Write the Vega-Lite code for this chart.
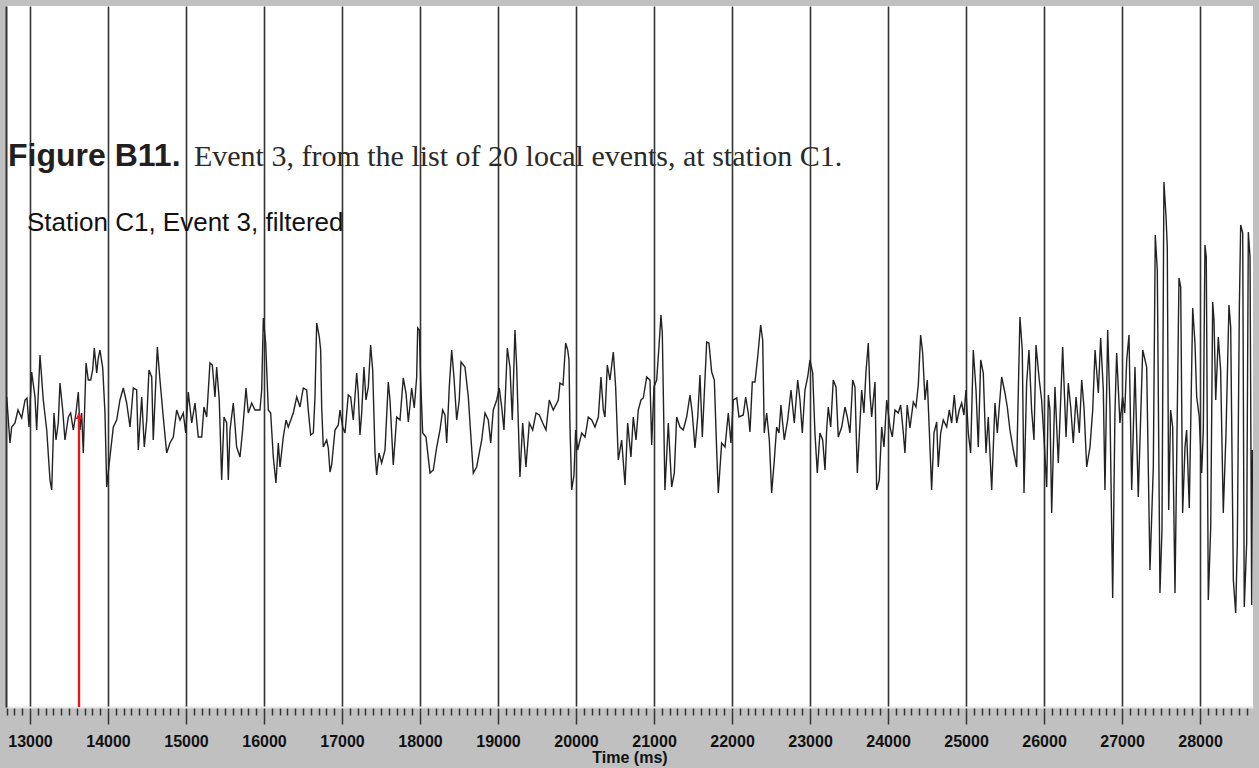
{
  "$schema": "https://vega.github.io/schema/vega-lite/v6.json",
  "width": 1247,
  "height": 701,
  "autosize": {"type": "none"},
  "padding": {"left": 6, "top": 6, "right": 6, "bottom": 61},
  "background": "#c0c0c0",
  "config": {"view": {"fill": "#ffffff", "stroke": null}},
  "datasets": {
    "trace": [
      {"t":12701,"a":9},{"t":12743,"a":-37},{"t":12765,"a":-21},{"t":12807,"a":-17},{"t":12846,"a":-4},{"t":12893,"a":-12},{"t":12936,"a":6},{"t":12961,"a":8},{"t":12987,"a":-21},{"t":13021,"a":34},
      {"t":13064,"a":9},{"t":13085,"a":-24},{"t":13128,"a":51},{"t":13170,"a":6},{"t":13214,"a":-24},{"t":13256,"a":-74},{"t":13278,"a":-84},{"t":13307,"a":-7},{"t":13333,"a":-34},{"t":13362,"a":-17},
      {"t":13384,"a":23},{"t":13419,"a":-4},{"t":13448,"a":-34},{"t":13491,"a":-11},{"t":13521,"a":-7},{"t":13555,"a":-24},{"t":13589,"a":-7},{"t":13619,"a":14},{"t":13641,"a":-24},{"t":13662,"a":-7},
      {"t":13683,"a":-47},{"t":13718,"a":43},{"t":13747,"a":26},{"t":13778,"a":26},{"t":13803,"a":36},{"t":13824,"a":58},{"t":13855,"a":33},{"t":13875,"a":48},{"t":13897,"a":56},{"t":13932,"a":38},
      {"t":13961,"a":-7},{"t":13983,"a":-81},{"t":14016,"a":-57},{"t":14068,"a":-21},{"t":14111,"a":-14},{"t":14153,"a":6},{"t":14196,"a":18},{"t":14239,"a":3},{"t":14282,"a":-21},{"t":14324,"a":18},
      {"t":14367,"a":16},{"t":14388,"a":-44},{"t":14432,"a":9},{"t":14465,"a":-41},{"t":14496,"a":-14},{"t":14525,"a":36},{"t":14560,"a":29},{"t":14580,"a":-34},{"t":14632,"a":59},{"t":14666,"a":26},
      {"t":14708,"a":-11},{"t":14752,"a":-47},{"t":14794,"a":-37},{"t":14837,"a":-31},{"t":14880,"a":-4},{"t":14923,"a":-14},{"t":14965,"a":-7},{"t":14996,"a":-27},{"t":15029,"a":14},{"t":15073,"a":-17},
      {"t":15115,"a":3},{"t":15157,"a":-31},{"t":15201,"a":-31},{"t":15230,"a":-1},{"t":15265,"a":-11},{"t":15307,"a":43},{"t":15337,"a":41},{"t":15371,"a":9},{"t":15393,"a":39},{"t":15426,"a":6},
      {"t":15457,"a":-74},{"t":15487,"a":-11},{"t":15521,"a":-17},{"t":15542,"a":-74},{"t":15564,"a":-24},{"t":15606,"a":3},{"t":15649,"a":-41},{"t":15692,"a":-51},{"t":15726,"a":-24},{"t":15769,"a":18},
      {"t":15798,"a":-7},{"t":15842,"a":3},{"t":15884,"a":-4},{"t":15948,"a":-4},{"t":15970,"a":16},{"t":15991,"a":88},{"t":16021,"a":63},{"t":16055,"a":-4},{"t":16085,"a":-7},{"t":16119,"a":-51},
      {"t":16153,"a":-77},{"t":16183,"a":-37},{"t":16205,"a":-61},{"t":16247,"a":-31},{"t":16282,"a":-14},{"t":16311,"a":-21},{"t":16375,"a":-7},{"t":16419,"a":9},{"t":16461,"a":-1},{"t":16503,"a":18},
      {"t":16547,"a":16},{"t":16567,"a":-4},{"t":16598,"a":-29},{"t":16632,"a":-27},{"t":16653,"a":8},{"t":16675,"a":83},{"t":16709,"a":69},{"t":16726,"a":56},{"t":16739,"a":-1},{"t":16760,"a":-41},
      {"t":16803,"a":-34},{"t":16824,"a":-42},{"t":16846,"a":-66},{"t":16867,"a":-59},{"t":16910,"a":-24},{"t":16952,"a":-19},{"t":16974,"a":-4},{"t":17008,"a":-21},{"t":17038,"a":-27},{"t":17080,"a":11},
      {"t":17111,"a":9},{"t":17144,"a":-14},{"t":17188,"a":33},{"t":17208,"a":13},{"t":17230,"a":-29},{"t":17252,"a":-7},{"t":17281,"a":39},{"t":17307,"a":6},{"t":17337,"a":19},{"t":17367,"a":61},
      {"t":17393,"a":36},{"t":17423,"a":-47},{"t":17444,"a":-69},{"t":17474,"a":-47},{"t":17508,"a":-57},{"t":17551,"a":-44},{"t":17593,"a":24},{"t":17615,"a":6},{"t":17657,"a":-59},{"t":17701,"a":-11},
      {"t":17743,"a":-14},{"t":17785,"a":28},{"t":17820,"a":13},{"t":17850,"a":-16},{"t":17893,"a":18},{"t":17926,"a":-2},{"t":17957,"a":29},{"t":17970,"a":78},{"t":17991,"a":76},{"t":18008,"a":26},
      {"t":18034,"a":-27},{"t":18076,"a":-31},{"t":18128,"a":-67},{"t":18170,"a":-64},{"t":18214,"a":-41},{"t":18256,"a":-24},{"t":18290,"a":-4},{"t":18320,"a":-9},{"t":18342,"a":-37},{"t":18375,"a":19},
      {"t":18406,"a":56},{"t":18435,"a":29},{"t":18470,"a":-14},{"t":18503,"a":6},{"t":18525,"a":44},{"t":18576,"a":39},{"t":18619,"a":9},{"t":18649,"a":-27},{"t":18683,"a":-67},{"t":18726,"a":-61},
      {"t":18791,"a":-34},{"t":18833,"a":-7},{"t":18875,"a":-14},{"t":18906,"a":-37},{"t":18939,"a":-4},{"t":18983,"a":6},{"t":19016,"a":18},{"t":19047,"a":-1},{"t":19076,"a":-24},{"t":19119,"a":58},
      {"t":19153,"a":39},{"t":19183,"a":-14},{"t":19217,"a":76},{"t":19239,"a":39},{"t":19260,"a":-17},{"t":19281,"a":-71},{"t":19316,"a":-17},{"t":19358,"a":-61},{"t":19401,"a":-17},{"t":19444,"a":-24},
      {"t":19487,"a":-7},{"t":19529,"a":-9},{"t":19573,"a":-17},{"t":19615,"a":-24},{"t":19657,"a":6},{"t":19708,"a":-4},{"t":19773,"a":6},{"t":19794,"a":23},{"t":19833,"a":21},{"t":19867,"a":63},
      {"t":19893,"a":56},{"t":19910,"a":46},{"t":19922,"a":-19},{"t":19944,"a":-84},{"t":19974,"a":-69},{"t":19995,"a":-24},{"t":20021,"a":-44},{"t":20051,"a":-34},{"t":20073,"a":-27},{"t":20115,"a":-31},
      {"t":20137,"a":-21},{"t":20157,"a":-11},{"t":20201,"a":-14},{"t":20243,"a":-21},{"t":20286,"a":-11},{"t":20320,"a":29},{"t":20350,"a":-4},{"t":20371,"a":-11},{"t":20401,"a":41},{"t":20435,"a":26},
      {"t":20478,"a":54},{"t":20508,"a":19},{"t":20542,"a":-54},{"t":20585,"a":-34},{"t":20628,"a":-79},{"t":20662,"a":-17},{"t":20704,"a":-51},{"t":20734,"a":-11},{"t":20769,"a":-34},{"t":20798,"a":-4},
      {"t":20833,"a":6},{"t":20862,"a":8},{"t":20906,"a":29},{"t":20948,"a":26},{"t":20970,"a":-39},{"t":20999,"a":19},{"t":21034,"a":26},{"t":21063,"a":59},{"t":21089,"a":91},{"t":21106,"a":73},
      {"t":21140,"a":-84},{"t":21183,"a":-17},{"t":21226,"a":-81},{"t":21260,"a":-67},{"t":21290,"a":-11},{"t":21333,"a":-21},{"t":21375,"a":-24},{"t":21418,"a":-11},{"t":21461,"a":11},{"t":21490,"a":-7},
      {"t":21525,"a":-42},{"t":21560,"a":-11},{"t":21589,"a":31},{"t":21619,"a":-31},{"t":21675,"a":64},{"t":21704,"a":63},{"t":21739,"a":34},{"t":21773,"a":26},{"t":21803,"a":-44},{"t":21824,"a":-87},
      {"t":21867,"a":-37},{"t":21910,"a":-41},{"t":21952,"a":-7},{"t":21986,"a":-37},{"t":22016,"a":6},{"t":22060,"a":8},{"t":22089,"a":-11},{"t":22144,"a":-9},{"t":22175,"a":9},{"t":22208,"a":-7},
      {"t":22230,"a":-26},{"t":22260,"a":24},{"t":22294,"a":24},{"t":22329,"a":49},{"t":22367,"a":81},{"t":22393,"a":66},{"t":22413,"a":-27},{"t":22444,"a":-7},{"t":22478,"a":-34},{"t":22508,"a":-87},
      {"t":22542,"a":-54},{"t":22572,"a":-21},{"t":22602,"a":-27},{"t":22627,"a":1},{"t":22670,"a":-34},{"t":22713,"a":-14},{"t":22756,"a":16},{"t":22798,"a":-17},{"t":22842,"a":26},{"t":22871,"a":6},
      {"t":22901,"a":-27},{"t":22935,"a":16},{"t":22970,"a":29},{"t":22999,"a":46},{"t":23034,"a":33},{"t":23063,"a":-27},{"t":23093,"a":-67},{"t":23127,"a":-27},{"t":23162,"a":-34},{"t":23192,"a":-64},
      {"t":23213,"a":-24},{"t":23234,"a":-1},{"t":23265,"a":-21},{"t":23298,"a":26},{"t":23333,"a":19},{"t":23362,"a":-31},{"t":23406,"a":-21},{"t":23448,"a":-1},{"t":23478,"a":-11},{"t":23512,"a":-27},
      {"t":23547,"a":26},{"t":23576,"a":19},{"t":23606,"a":-67},{"t":23640,"a":-17},{"t":23662,"a":16},{"t":23691,"a":-7},{"t":23717,"a":34},{"t":23747,"a":63},{"t":23768,"a":13},{"t":23790,"a":-11},
      {"t":23833,"a":24},{"t":23854,"a":-84},{"t":23888,"a":-74},{"t":23919,"a":-21},{"t":23948,"a":-41},{"t":23983,"a":6},{"t":24025,"a":-21},{"t":24055,"a":-31},{"t":24089,"a":-4},{"t":24131,"a":-7},
      {"t":24162,"a":1},{"t":24195,"a":-26},{"t":24217,"a":-47},{"t":24246,"a":1},{"t":24281,"a":-22},{"t":24324,"a":4},{"t":24358,"a":-1},{"t":24388,"a":21},{"t":24418,"a":71},{"t":24444,"a":53},
      {"t":24474,"a":6},{"t":24503,"a":26},{"t":24529,"a":-24},{"t":24559,"a":-84},{"t":24589,"a":-27},{"t":24624,"a":-16},{"t":24644,"a":-61},{"t":24675,"a":-27},{"t":24708,"a":-14},{"t":24752,"a":-21},
      {"t":24785,"a":-4},{"t":24816,"a":-17},{"t":24849,"a":11},{"t":24880,"a":-17},{"t":24913,"a":-4},{"t":24944,"a":3},{"t":24973,"a":-9},{"t":24999,"a":16},{"t":25029,"a":-27},{"t":25059,"a":-47},
      {"t":25093,"a":56},{"t":25128,"a":16},{"t":25157,"a":-41},{"t":25188,"a":46},{"t":25221,"a":33},{"t":25256,"a":-47},{"t":25285,"a":-11},{"t":25329,"a":-84},{"t":25371,"a":3},{"t":25401,"a":-27},
      {"t":25426,"a":-1},{"t":25457,"a":29},{"t":25499,"a":13},{"t":25529,"a":-1},{"t":25563,"a":-24},{"t":25606,"a":-44},{"t":25649,"a":-61},{"t":25691,"a":89},{"t":25721,"a":56},{"t":25743,"a":-87},
      {"t":25777,"a":23},{"t":25807,"a":56},{"t":25841,"a":-4},{"t":25871,"a":-34},{"t":25897,"a":61},{"t":25939,"a":26},{"t":25969,"a":6},{"t":26003,"a":-37},{"t":26034,"a":-81},{"t":26055,"a":11},
      {"t":26076,"a":-4},{"t":26098,"a":-107},{"t":26140,"a":19},{"t":26183,"a":-57},{"t":26239,"a":59},{"t":26282,"a":-31},{"t":26311,"a":23},{"t":26342,"a":-1},{"t":26375,"a":-37},{"t":26410,"a":9},
      {"t":26452,"a":-27},{"t":26483,"a":26},{"t":26512,"a":-1},{"t":26547,"a":-61},{"t":26589,"a":-41},{"t":26624,"a":-4},{"t":26654,"a":56},{"t":26696,"a":13},{"t":26726,"a":68},{"t":26760,"a":16},
      {"t":26781,"a":-84},{"t":26816,"a":76},{"t":26845,"a":-1},{"t":26880,"a":-192},{"t":26909,"a":-7},{"t":26931,"a":53},{"t":26973,"a":-17},{"t":27008,"a":9},{"t":27034,"a":-7},{"t":27060,"a":46},
      {"t":27089,"a":71},{"t":27124,"a":-84},{"t":27166,"a":39},{"t":27208,"a":-91},{"t":27265,"a":56},{"t":27316,"a":39},{"t":27358,"a":-164},{"t":27401,"a":-61},{"t":27426,"a":171},{"t":27452,"a":136},
      {"t":27486,"a":-187},{"t":27512,"a":-124},{"t":27537,"a":224},{"t":27563,"a":191},{"t":27580,"a":159},{"t":27598,"a":-104},{"t":27623,"a":-4},{"t":27649,"a":-21},{"t":27679,"a":-187},{"t":27700,"a":-57},
      {"t":27730,"a":128},{"t":27752,"a":119},{"t":27777,"a":-107},{"t":27807,"a":-41},{"t":27828,"a":-24},{"t":27862,"a":-102},{"t":27906,"a":98},{"t":27935,"a":63},{"t":27957,"a":9},{"t":27990,"a":-11},
      {"t":28021,"a":-67},{"t":28042,"a":-24},{"t":28063,"a":161},{"t":28080,"a":149},{"t":28106,"a":-194},{"t":28137,"a":-121},{"t":28162,"a":104},{"t":28179,"a":86},{"t":28201,"a":6},{"t":28234,"a":69},
      {"t":28264,"a":36},{"t":28298,"a":-107},{"t":28333,"a":-27},{"t":28371,"a":101},{"t":28393,"a":79},{"t":28427,"a":-174},{"t":28457,"a":-207},{"t":28478,"a":-137},{"t":28504,"a":99},{"t":28521,"a":181},
      {"t":28547,"a":173},{"t":28567,"a":-201},{"t":28598,"a":-137},{"t":28619,"a":174},{"t":28641,"a":149},{"t":28662,"a":-199},{"t":28672,"a":-44}
    ],
    "pick": [{"t": 13628, "a": -7, "a2": -301}],
    "figure": [{"t": 12718, "a": 240, "label": "Figure B11."}],
    "caption": [{"t": 15102, "a": 240, "label": "Event 3, from the list of 20 local events, at station C1."}],
    "station": [{"t": 12961, "a": 175, "label": "Station C1, Event 3, filtered"}]
  },
  "encoding": {
    "x": {
      "field": "t",
      "type": "quantitative",
      "scale": {"domain": [12692, 28679], "nice": false, "zero": false},
      "axis": {
        "title": "Time (ms)",
        "tickCount": 160,
        "format": "d",
        "labelExpr": "datum.value % 1000 === 0 ? datum.label : ''",
        "labelOverlap": false,
        "labelFlush": false,
        "labelFont": "Liberation Sans, Arial, sans-serif",
        "labelFontWeight": "bold",
        "labelFontSize": 16,
        "labelColor": "#111111",
        "labelPadding": 9,
        "tickSize": {"condition": {"test": "datum.value % 1000 === 0", "value": 17}, "value": 8},
        "tickColor": "#333333",
        "tickWidth": 1.5,
        "domainColor": "#e8e8e8",
        "domainWidth": 2,
        "grid": true,
        "gridColor": "#333333",
        "gridWidth": 1.6,
        "gridOpacity": {"condition": {"test": "datum.value % 1000 === 0", "value": 1}, "value": 0},
        "titleFont": "Liberation Sans, Arial, sans-serif",
        "titleFontWeight": "bold",
        "titleFontSize": 16,
        "titleColor": "#111111",
        "titlePadding": 0
      }
    },
    "y": {
      "field": "a",
      "type": "quantitative",
      "scale": {"domain": [-301, 400], "nice": false, "zero": false},
      "axis": {"domain": true, "domainColor": "#333333", "domainWidth": 2, "ticks": false, "labels": false, "title": null, "grid": false}
    }
  },
  "layer": [
    {
      "data": {"name": "trace"},
      "mark": {"type": "line", "interpolate": "linear", "color": "#222222", "strokeWidth": 1.4, "clip": true}
    },
    {
      "data": {"name": "pick"},
      "mark": {"type": "rule", "color": "#e41a1a", "strokeWidth": 2.4},
      "encoding": {"y2": {"field": "a2"}}
    },
    {
      "data": {"name": "pick"},
      "mark": {"type": "point", "shape": "triangle-up", "filled": true, "color": "#e41a1a", "size": 50, "opacity": 1, "yOffset": 3}
    },
    {
      "data": {"name": "figure"},
      "mark": {"type": "text", "align": "left", "baseline": "alphabetic", "font": "Liberation Sans", "fontWeight": "bold", "fontSize": 32, "color": "#231f20"},
      "encoding": {"text": {"field": "label"}}
    },
    {
      "data": {"name": "caption"},
      "mark": {"type": "text", "align": "left", "baseline": "alphabetic", "font": "Liberation Serif", "fontSize": 30, "color": "#2a2a2a"},
      "encoding": {"text": {"field": "label"}}
    },
    {
      "data": {"name": "station"},
      "mark": {"type": "text", "align": "left", "baseline": "alphabetic", "font": "Liberation Sans", "fontSize": 26, "color": "#111111"},
      "encoding": {"text": {"field": "label"}}
    }
  ]
}
